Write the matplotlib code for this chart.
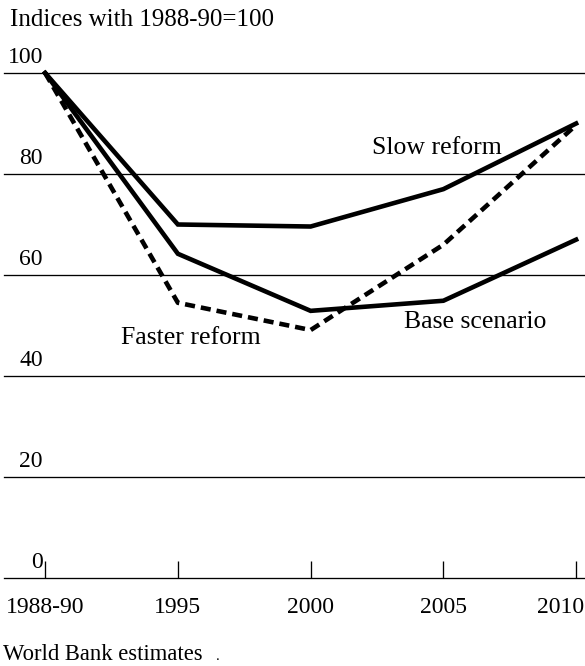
import matplotlib
matplotlib.use('Agg')
import matplotlib.pyplot as plt
import matplotlib.transforms as mtransforms

plt.rcParams['font.family'] = ['Liberation Serif', 'DejaVu Serif']

# data
periods = ['1988-90', '1995', '2000', '2005', '2010']
slow_reform = [100, 70, 69.6, 77, 90]
base_scenario = [100, 64.2, 52.9, 54.9, 67]
faster_reform = [100, 54.5, 49.1, 66, 89.7]
yticks = [0, 20, 40, 60, 80, 100]

W, H = 585, 666
fig = plt.figure(figsize=(W / 100, H / 100), dpi=100)
# axes placed in pixel terms: left 4, right 585, y=0 at 578, y=100 at 73
ax = fig.add_axes([4 / W, (H - 578) / H, 581 / W, 505 / H])
ax.set_xlim(-0.31, 4.067)
ax.set_ylim(0, 100)

x = list(range(len(periods)))

# horizontal rules
for v in yticks:
    ax.axhline(v, color='black', lw=0.95, zorder=1, clip_on=False)

ax.plot(x, slow_reform, color='black', lw=3.3, solid_joinstyle='miter',
        clip_on=False, zorder=3)
ax.plot(x, base_scenario, color='black', lw=3.3, solid_joinstyle='miter',
        clip_on=False, zorder=3)
ax.plot(x, faster_reform, color='black', lw=3.3, linestyle=(0, (2.2, 1.3)),
        dash_capstyle='butt', clip_on=False, zorder=3)

# series labels
ax.text(2.95, 85.2, 'Slow reform', fontsize=18.5, ha='center', va='center')
ax.text(3.24, 50.6, 'Base scenario', fontsize=18.5, ha='center', va='center')
ax.text(1.1, 47.6, 'Faster reform', fontsize=18.5, ha='center', va='center')

# y labels sit above the rules on the left
trans = mtransforms.blended_transform_factory(ax.transAxes, ax.transData)
for v in yticks:
    ax.text(0.067, v + 0.9, str(v), transform=trans, fontsize=17,
            ha='right', va='bottom')

# x ticks point upward from the zero line
ax.set_xticks(x)
ax.set_xticklabels(periods, fontsize=17)
ax.tick_params(axis='x', direction='in', length=12, width=0.95, pad=14)
last = ax.get_xticklabels()[-1]
last.set_horizontalalignment('right')
last.set_transform(last.get_transform() +
                   mtransforms.ScaledTranslation(8 / 100, 0, fig.dpi_scale_trans))
ax.set_yticks([])
for s in ax.spines.values():
    s.set_visible(False)

fig.text(10 / W, 1 - 20 / H, 'Indices with 1988-90=100', fontsize=18,
         ha='left', va='center')
fig.text(3 / W, 1 - 655 / H, 'World Bank estimates', fontsize=16.3,
         ha='left', va='center')
fig.text(218 / W, 1 - 657 / H, '.', fontsize=11, ha='center', va='center')

fig.savefig('out.png', dpi=100)
